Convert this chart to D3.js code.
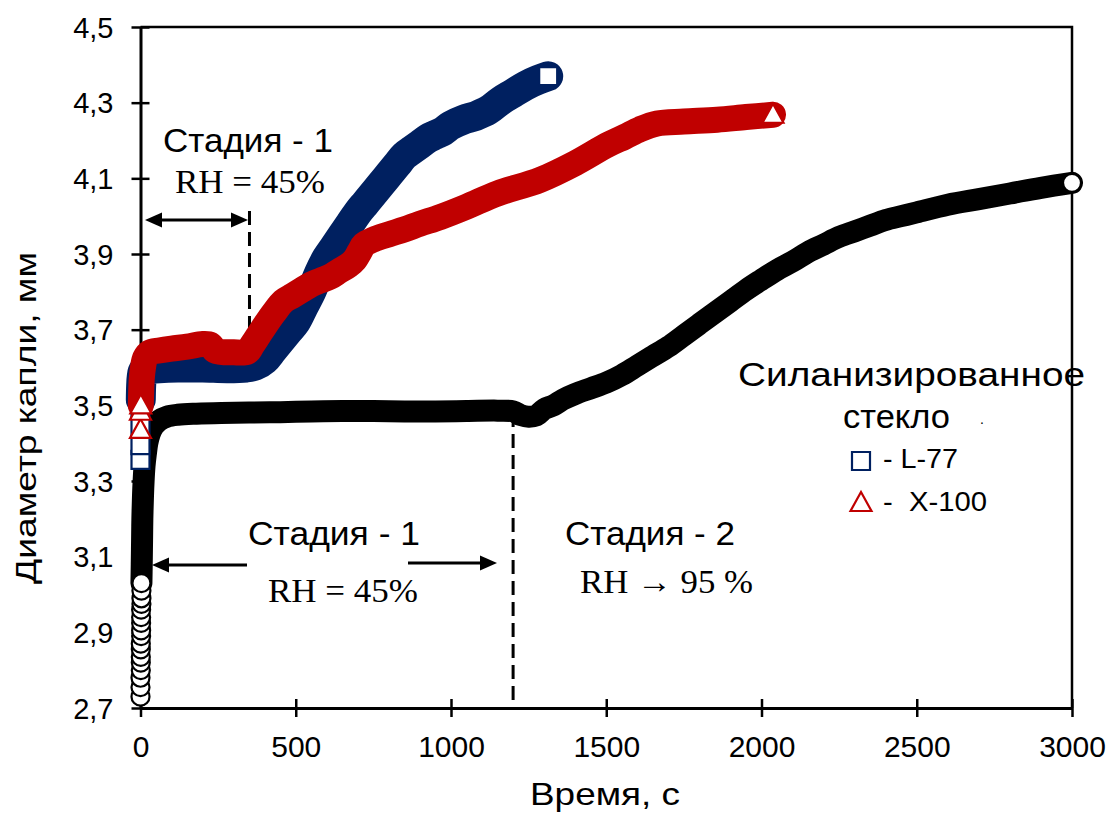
<!DOCTYPE html>
<html>
<head>
<meta charset="utf-8">
<script src="https://cdn.jsdelivr.net/npm/d3@7"></script>
<style>
  html, body { margin: 0; padding: 0; background: #fff; }
  svg { display: block; }
  text { font-family: "Liberation Sans", Arial, sans-serif; fill: #000; }
  .serif { font-family: "Liberation Serif", "Times New Roman", serif; }
</style>
</head>
<body>
<svg id="chart" width="1112" height="814"></svg>
<script>
// Drop diameter (mm) vs time (s) on silanized glass

// Water drop: separate markers at the very start, then the dense trace
const waterStart = [
  [0, 2.73], [0, 2.755], [0, 2.78], [1, 2.80], [1, 2.82], [1, 2.835], [1, 2.855],
  [1, 2.87], [2, 2.89], [2, 2.905], [2, 2.925], [2, 2.94], [2, 2.96], [3, 2.975],
  [3, 2.99], [3, 3.01], [3, 3.03]
];
const waterTrace = [
  [3, 3.03], [4, 3.08], [5, 3.14], [6, 3.20], [8, 3.26], [10, 3.30], [13, 3.34],
  [17, 3.37], [22, 3.40], [30, 3.425], [42, 3.445], [60, 3.46],
  [85, 3.47], [120, 3.475], [180, 3.478], [260, 3.48], [350, 3.481], [450, 3.482],
  [550, 3.484], [650, 3.485], [750, 3.485], [850, 3.484], [950, 3.484], [1050, 3.485],
  [1150, 3.486], [1200, 3.484], [1225, 3.474], [1250, 3.47], [1275, 3.473], [1300, 3.49],
  [1330, 3.50], [1360, 3.515], [1400, 3.53], [1450, 3.545], [1500, 3.56], [1550, 3.58],
  [1600, 3.605], [1650, 3.63], [1700, 3.655], [1750, 3.685], [1800, 3.715], [1850, 3.745],
  [1900, 3.775], [1950, 3.805], [2000, 3.832], [2050, 3.858], [2100, 3.88], [2150, 3.905],
  [2200, 3.925], [2250, 3.945], [2300, 3.96], [2350, 3.975], [2400, 3.99], [2450, 4.0],
  [2500, 4.01], [2600, 4.03], [2700, 4.045], [2800, 4.06], [2900, 4.075], [3000, 4.088]
];

// L-77 solution
const l77Start = [[0, 3.356], [0, 3.395], [0, 3.443], [0, 3.496], [1, 3.515]];
const l77Trace = [
  [1, 3.515], [2, 3.55], [4, 3.575], [8, 3.59], [20, 3.595], [60, 3.598], [120, 3.60],
  [200, 3.60], [280, 3.598], [340, 3.60], [370, 3.605], [400, 3.62], [425, 3.645],
  [450, 3.67], [475, 3.695], [500, 3.72], [525, 3.76], [550, 3.80], [575, 3.85],
  [600, 3.89], [625, 3.92], [650, 3.95], [675, 3.98], [700, 4.01], [725, 4.035],
  [750, 4.06], [775, 4.085], [800, 4.11], [825, 4.135], [850, 4.16], [875, 4.175],
  [900, 4.19], [925, 4.205], [950, 4.215], [975, 4.225], [1000, 4.24], [1040, 4.255],
  [1080, 4.265], [1120, 4.28], [1160, 4.305], [1200, 4.325], [1240, 4.345],
  [1280, 4.36], [1313, 4.37]
];

// X-100 solution
const x100Start = [[0, 3.435], [0, 3.483], [1, 3.50]];
const x100Trace = [
  [1, 3.50], [2, 3.53], [4, 3.57], [8, 3.60], [15, 3.625], [30, 3.64], [60, 3.645],
  [100, 3.65], [150, 3.655], [200, 3.662], [225, 3.66], [240, 3.645], [300, 3.64],
  [345, 3.642], [360, 3.66], [380, 3.685], [400, 3.71], [430, 3.745], [460, 3.775],
  [490, 3.79], [520, 3.805], [550, 3.82], [580, 3.83], [611, 3.84], [640, 3.855],
  [670, 3.87], [690, 3.885], [705, 3.905], [720, 3.925], [750, 3.938], [800, 3.952],
  [850, 3.965], [900, 3.98], [966, 3.998], [1050, 4.025], [1150, 4.06], [1287, 4.096],
  [1400, 4.14], [1503, 4.188], [1560, 4.21], [1609, 4.23], [1664, 4.245], [1750, 4.25],
  [1857, 4.255], [1950, 4.262], [2037, 4.268]
];

const xTicks = [0, 500, 1000, 1500, 2000, 2500, 3000];
const yTicks = [2.7, 2.9, 3.1, 3.3, 3.5, 3.7, 3.9, 4.1, 4.3, 4.5];

const stageBoundaries = [351, 1200];

const svg = d3.select("#chart");
const x = d3.scaleLinear().domain([0, 3000]).range([140.5, 1072]);
const y = d3.scaleLinear().domain([2.7, 4.5]).range([708, 27]);

const ruLocale = d3.formatLocale({ decimal: ",", thousands: "", grouping: [3], currency: ["", ""] });
const fmt1 = ruLocale.format(".1f");

// frame (top and right)
svg.append("path")
  .attr("d", `M${x(0)},${y(4.5)}H${x(3000)}V${y(2.7)}`)
  .attr("fill", "none").attr("stroke", "#000").attr("stroke-width", 2.5);

// dashed stage boundaries
svg.append("line")
  .attr("x1", x(stageBoundaries[0])).attr("x2", x(stageBoundaries[0]))
  .attr("y1", 211).attr("y2", y(3.64))
  .attr("stroke", "#000").attr("stroke-width", 3).attr("stroke-dasharray", "14,7");
svg.append("line")
  .attr("x1", x(stageBoundaries[1])).attr("x2", x(stageBoundaries[1]))
  .attr("y1", y(3.48)).attr("y2", 704)
  .attr("stroke", "#000").attr("stroke-width", 3).attr("stroke-dasharray", "14,7");

// axes
const xAxis = svg.append("g").attr("transform", `translate(0,${y(2.7)})`)
  .call(d3.axisBottom(x).tickValues(xTicks).tickSize(9).tickSizeOuter(0).tickPadding(0).tickFormat(d3.format("d")));
xAxis.select(".domain").attr("stroke-width", 3);
xAxis.selectAll(".tick line").attr("y1", -9).attr("y2", 9).attr("stroke-width", 2.5);
xAxis.selectAll(".tick text").attr("y", 49).attr("dy", 0)
  .style("font-size", "30px").style("font-family", "'Liberation Sans', Arial, sans-serif");

const yAxis = svg.append("g").attr("transform", `translate(${x(0)},0)`)
  .call(d3.axisLeft(y).tickValues(yTicks).tickSize(9).tickSizeOuter(0).tickPadding(0).tickFormat(fmt1));
yAxis.select(".domain").attr("stroke-width", 3);
yAxis.selectAll(".tick line").attr("x1", -9).attr("x2", 9).attr("stroke-width", 2.5);
yAxis.selectAll(".tick text").attr("x", -27).attr("dy", "0.35em")
  .style("font-size", "29px").style("font-family", "'Liberation Sans', Arial, sans-serif");

// axis titles
svg.append("text").attr("x", 605).attr("y", 805).attr("text-anchor", "middle")
  .attr("textLength", 150).attr("lengthAdjust", "spacingAndGlyphs")
  .style("font-size", "32px").text("Время, с");
svg.append("text").attr("transform", "translate(36,418) rotate(-90)").attr("text-anchor", "middle")
  .attr("textLength", 332).attr("lengthAdjust", "spacingAndGlyphs")
  .style("font-size", "30px").text("Диаметр капли, мм");

// traces
const line = d3.line().x(d => x(d[0])).y(d => y(d[1])).curve(d3.curveCatmullRom.alpha(0.5));

function drawSeries(start, trace, color, width, marker) {
  const g = svg.append("g");
  g.append("path").datum(trace).attr("d", line)
    .attr("fill", "none").attr("stroke", color).attr("stroke-width", width)
    .attr("stroke-linejoin", "round").attr("stroke-linecap", "round");
  const pts = start.concat([trace[trace.length - 1]]);
  g.selectAll("path.mk").data(pts).join("path").attr("class", "mk")
    .attr("transform", d => `translate(${x(d[0])},${y(d[1])})`)
    .attr("d", marker)
    .attr("fill", "#fff").attr("stroke", color).attr("stroke-width", 2.2);
}

const circleMk = d3.symbol(d3.symbolCircle, Math.PI * 9 * 9)();
const squareMk = "M-9,-9H9V9H-9Z";
const triMk = "M0,-11L10.5,8L-10.5,8Z";

drawSeries(waterStart, waterTrace, "#000", 22, circleMk);
drawSeries(l77Start, l77Trace, "#002060", 30, squareMk);
drawSeries(x100Start, x100Trace, "#c00000", 26, triMk);

// arrows
function arrowHead(xTip, yTip, dir) {
  const L = 17, H = 7.5;
  return `M${xTip},${yTip}L${xTip - dir * L},${yTip - H}L${xTip - dir * L},${yTip + H}Z`;
}
const ann = svg.append("g");
// stage 1 (top) double arrow
ann.append("line").attr("x1", 150).attr("x2", 243).attr("y1", 220).attr("y2", 220)
  .attr("stroke", "#000").attr("stroke-width", 3);
ann.append("path").attr("d", arrowHead(145, 220, -1));
ann.append("path").attr("d", arrowHead(248, 220, 1));
// stage 1 (bottom) arrows
ann.append("line").attr("x1", 160).attr("x2", 247).attr("y1", 565).attr("y2", 565)
  .attr("stroke", "#000").attr("stroke-width", 3);
ann.append("path").attr("d", arrowHead(152, 565, -1));
ann.append("line").attr("x1", 408).attr("x2", 485).attr("y1", 563).attr("y2", 563)
  .attr("stroke", "#000").attr("stroke-width", 3);
ann.append("path").attr("d", arrowHead(497, 563, 1));

// stage labels
function label(x0, y0, str, size, width, serif) {
  const t = ann.append("text").attr("x", x0).attr("y", y0)
    .attr("textLength", width).attr("lengthAdjust", "spacingAndGlyphs")
    .style("font-size", size + "px").text(str);
  if (serif) t.attr("class", "serif");
  return t;
}
label(163, 152, "Стадия - 1", 33, 170);
label(175, 193, "RH = 45%", 34, 150, true);
label(248, 545, "Стадия - 1", 33, 172);
label(268, 602, "RH = 45%", 34, 150, true);
label(565, 545, "Стадия - 2", 33, 170);
label(580, 593, "RH \u2192 95 %", 34, 173, true);

// legend
const lg = svg.append("g");
lg.append("text").attr("x", 738).attr("y", 386).attr("textLength", 347).attr("lengthAdjust", "spacingAndGlyphs")
  .style("font-size", "34px").text("Силанизированное");
lg.append("text").attr("x", 843).attr("y", 428).attr("textLength", 107).attr("lengthAdjust", "spacingAndGlyphs")
  .style("font-size", "34px").text("стекло");
lg.append("text").attr("x", 980).attr("y", 424).style("font-size", "14px").text(".");
lg.append("path").attr("transform", "translate(861,461)").attr("d", squareMk)
  .attr("fill", "#fff").attr("stroke", "#002060").attr("stroke-width", 2.2);
lg.append("text").attr("x", 883).attr("y", 468).attr("textLength", 75).attr("lengthAdjust", "spacingAndGlyphs")
  .style("font-size", "27px").text("- L-77");
lg.append("path").attr("transform", "translate(861,503)").attr("d", triMk)
  .attr("fill", "#fff").attr("stroke", "#c00000").attr("stroke-width", 2.2);
lg.append("text").attr("x", 883).attr("y", 511).attr("textLength", 104).attr("lengthAdjust", "spacingAndGlyphs")
  .style("font-size", "27px").style("white-space", "pre").text("-  X-100");
</script>
</body>
</html>
